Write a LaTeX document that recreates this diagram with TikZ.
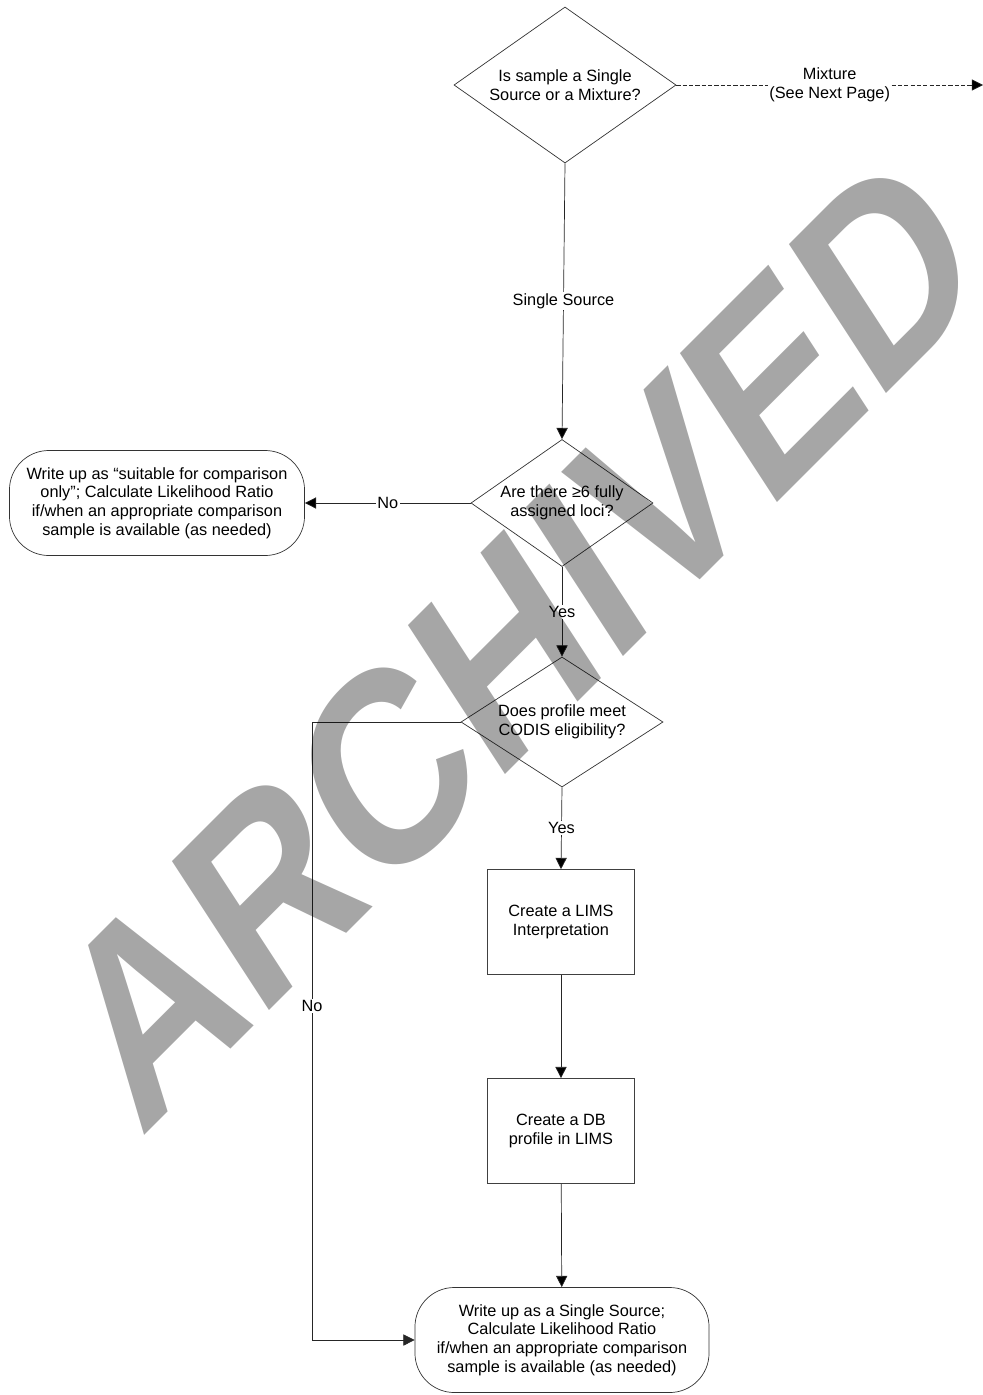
\documentclass[tikz,border=0pt]{standalone}
\usepackage{fontspec}
\setmainfont{Liberation Sans}
\usepackage{tikz}
\usetikzlibrary{shapes.geometric, arrows.meta}

\begin{document}
\begin{tikzpicture}[x=0.025cm, y=-0.025cm,
                    font=\fontsize{11.6}{13.3}\selectfont]
        % Setup the style for the shapes
        \tikzset{decision/.style={diamond,
                                  draw=black!80,
                                  line width=0.5pt,
                                  inner sep=0pt,
                                  align=center}}
        \tikzset{terminal/.style={rectangle,
                                  rounded corners=28pt,
                                  draw=black!80,
                                  line width=0.5pt,
                                  minimum width=7.375cm,
                                  minimum height=2.625cm,
                                  align=center}}
        \tikzset{process/.style={rectangle,
                                 draw=black!75,
                                 line width=0.5pt,
                                 minimum width=3.675cm,
                                 minimum height=2.625cm,
                                 align=center}}
        \tikzset{link/.style={-{Triangle[length=8pt, width=8pt]}}}
        \tikzset{choice/.style={fill=white,
                                inner sep=1pt,
                                align=center}}
        \tikzset{watermark/.style={anchor=base west,
                                   inner sep=0pt,
                                   transform shape,
                                   text=black,
                                   text opacity=0.35,
                                   font=\fontsize{100}{100}\selectfont\bfseries}}

        \useasboundingbox (0,0) rectangle (983,1395);

        % Draw the shapes
        \node[decision, shape aspect=1.42, minimum width=5.55cm, minimum height=3.9cm]
              at (565,85) (source) {Is sample a Single\\Source or a Mixture?};
        \node[decision, shape aspect=1.43, minimum width=4.55cm, minimum height=3.175cm]
              at (562,503) (loci) {Are there ≥6 fully\\assigned loci?};
        \node[decision, shape aspect=1.55, minimum width=5.05cm, minimum height=3.25cm]
              at (562,722) (codis) {Does profile meet\\CODIS eligibility?};
        \node[terminal] at (157,503) (comparison)
              {Write up as “suitable for comparison\\only”; Calculate Likelihood Ratio\\if/when an appropriate comparison\\sample is available (as needed)};
        \node[process] at (561,922) (interp) {Create a LIMS\\Interpretation};
        \node[process] at (561,1131) (dbprofile) {Create a DB\\profile in LIMS};
        \node[terminal, minimum width=7.35cm] at (562,1340) (single)
              {Write up as a Single Source;\\Calculate Likelihood Ratio\\if/when an appropriate comparison\\sample is available (as needed)};
        \coordinate (nextpage) at (983,85);
        \coordinate (nobend) at (312,722);

        % Connect the shapes with arrows
        \draw[line width=0.5pt,
              draw=black!85]
              (source.east)  edge[link, dash pattern=on 3pt off 1.5pt]
                                   node[choice] {Mixture\\(See Next Page)} (nextpage)
              (source.south) edge[link] node[choice] {Single Source} (loci.north)
              (loci.west)    edge[link] node[choice] {No} (comparison.east)
              (loci.south)   edge[link] node[choice] {Yes} (codis.north)
              (codis.south)  edge[link] node[choice] {Yes} (interp.north)
              (interp)       edge[link] (dbprofile)
              (dbprofile)    edge[link] (single);
        \draw[line width=0.5pt,
              draw=black!85, link]
              (codis.west) -- (nobend) |- node[choice, pos=0.23] {No} (single.west);

        % Watermark
        \begin{scope}[cm={1.162,1.162,-1.003,1.540,(140,1140)}]
            \node[watermark] at (0,0) (archived) {ARCHIVED};
        \end{scope}
\end{tikzpicture}
\end{document}
